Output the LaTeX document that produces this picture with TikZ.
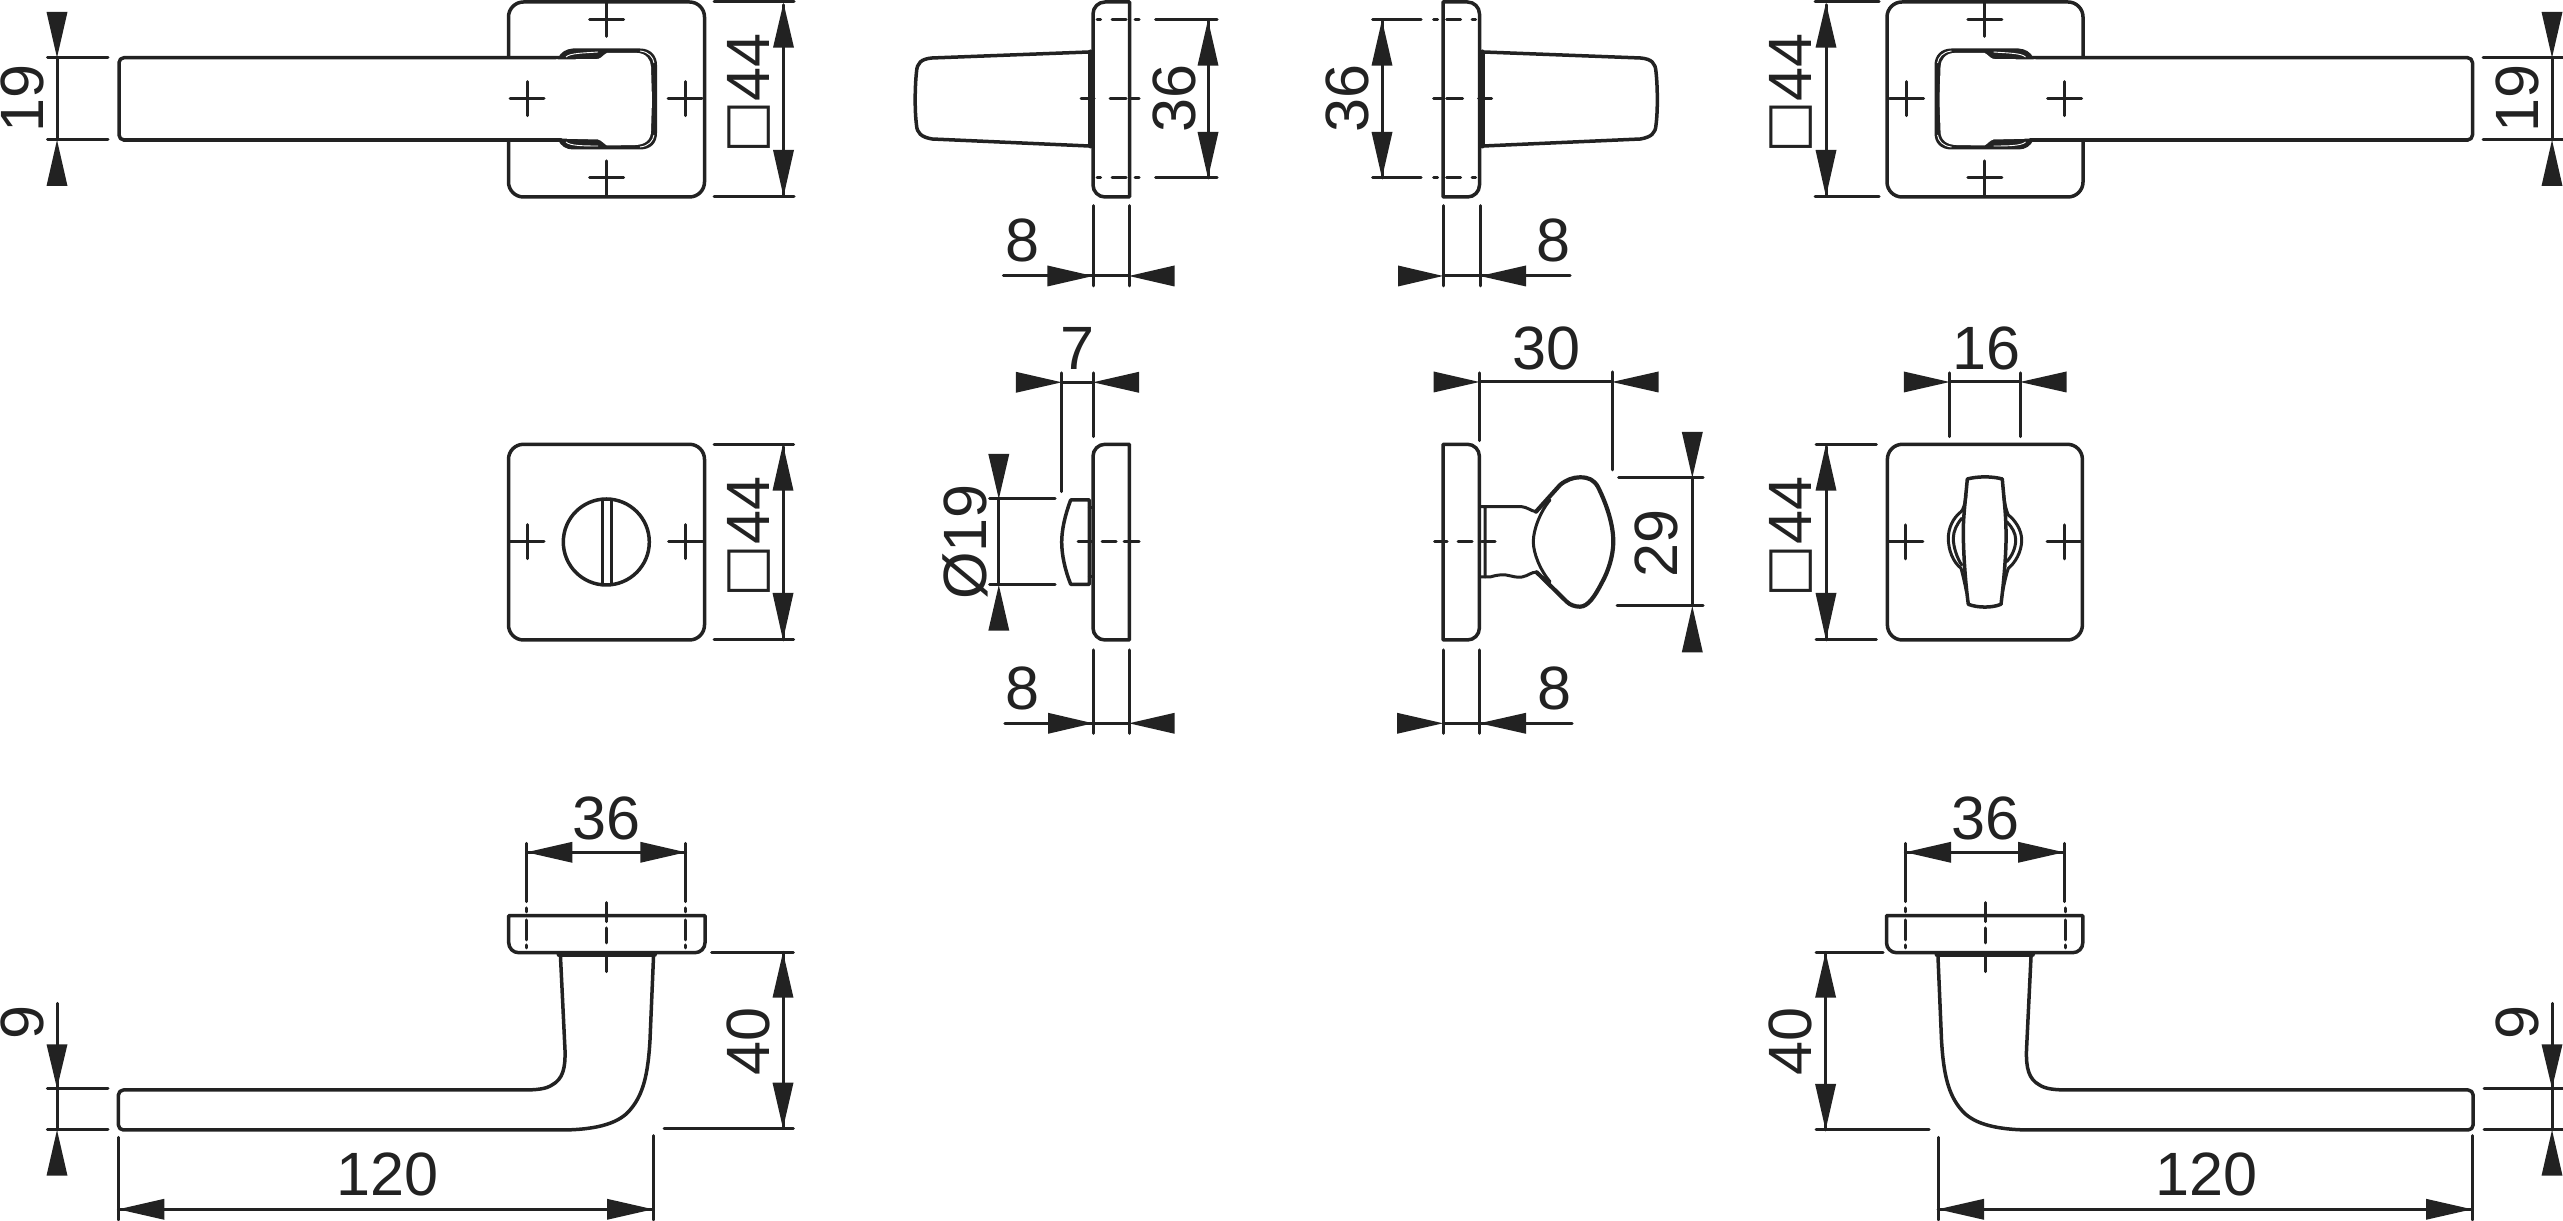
\documentclass[tikz,border=0pt]{standalone}
\usepackage{fontspec}
\setmainfont{Liberation Sans}
\newfontfamily\symfont{DejaVu Sans}
\definecolor{ink}{HTML}{222222}
\tikzset{
  x=0.1mm,y=-0.1mm,
  ln/.style={draw=ink,line width=0.35mm,line cap=round,line join=round},
  thk/.style={draw=ink,line width=0.5mm,line cap=round,line join=round},
  thn/.style={draw=ink,line width=0.3mm,line cap=round,line join=round},
  txt/.style={inner sep=0pt,outer sep=0pt,text=ink,font=\fontsize{17.4}{20}\selectfont},
}
\newcommand\ahh[3]{\fill[ink] (#1,#3) -- (#2,{#3-10.5}) -- (#2,{#3+10.5}) -- cycle;}
\newcommand\ahv[3]{\fill[ink] (#3,#1) -- ({#3-10.5},#2) -- ({#3+10.5},#2) -- cycle;}
\newcommand\lbl[5]{\node[txt,rotate=#4] (#1) at (#2,#3) {#5};}
\newcommand\crs[2]{\draw[thn] ({#1-17},#2) -- ({#1+17},#2) (#1,{#2-17}) -- (#1,{#2+17});}
\newcommand\sqb{\raisebox{1.6pt}[0pt][0pt]{\symfont\fontsize{15.8}{20}\selectfont □}}
% plate side: #1 rounded side x, #2 square side x, #3 top, #4 bottom
\newcommand\plateside[4]{\draw[ln] (#2,#3) [rounded corners=1.2mm] -- (#1,#3) -- (#1,#4) [sharp corners] -- (#2,#4) -- cycle;}
\newcommand\toprosette{%
  \draw[ln,rounded corners=1.5mm] (508.5,2) rectangle (704.5,197);
  \crs{606.7}{19.5}\crs{606.7}{178}\crs{685}{98.7}
  \draw[ln,fill=white,rounded corners=0.5mm] (561,57.7) -- (119,57.7) -- (119,140) -- (561,140);
  \fill[ink] (558,58) .. controls (561,52) and (566,49) .. (573,48.5) -- (640,48.5) .. controls (651,48.5) and (657,56) .. (657,65) -- (657,133) .. controls (657,143) and (651,149.5) .. (640,149.5) -- (573,149.5) .. controls (566,149.5) and (561,146) .. (558,140) -- cycle;
  \fill[white] (556,59.5) -- (598,59) .. controls (602,58) and (604,54) .. (607,53) -- (637,53) .. controls (646,53) and (651,60) .. (651,67) -- (652,100) -- (651,131) .. controls (651,140) and (645,144.5) .. (636,145) -- (607,145.5) .. controls (604,144) and (602,140.5) .. (598,139.5) -- (556,138.5) -- cycle;
  \draw[white,line width=0.09mm] (566,57) .. controls (570,53) and (585,53) .. (598,52);
  \draw[white,line width=0.09mm] (566,142) .. controls (570,146) and (585,146) .. (598,146);
  \draw[white,line width=0.09mm] (640,51) .. controls (649,52) and (653,57) .. (654,63);
  \draw[white,line width=0.09mm] (640,147) .. controls (649,146) and (653,141) .. (654,135);
  \draw[ln] (124,57.7) -- (561,57.7) (124,140) -- (561,140);
  \crs{527}{98.7}
}
\newcommand\sidehandle{%
  \plateside{1093}{1129.5}{2}{197}
  \draw[ln] (1089,52) -- (932,58) .. controls (921,59) and (917,63) .. (916.5,72) .. controls (915,85) and (914.5,110) .. (916.5,125) .. controls (917,133) and (921,137) .. (932,139) -- (1089,146);
  \draw[thk] (1090.5,52) -- (1090.5,146);
  \draw[thn] (1097,20) -- (1100.5,20) (1112,20) -- (1126,20) (1135,20) -- (1139,20)
             (1097,178) -- (1100.5,178) (1112,178) -- (1126,178) (1135,178) -- (1139,178)
             (1081,98.7) -- (1094,98.7) (1110,98.7) -- (1126,98.7) (1131,98.7) -- (1139,98.7);
}
\newcommand\lowhandle{%
  \draw[ln] (508.7,915.7) [rounded corners=1mm] -- (508.7,952.7) -- (705,952.7) [sharp corners] -- (705,915.7) -- cycle;
  \draw[thk] (559,954.5) -- (654.5,954.5);
  \draw[ln] (560.5,957) -- (565,1050) .. controls (565.5,1068) and (563,1079) .. (552,1085) .. controls (546,1089) and (537,1090) .. (522,1090) -- (125,1090) [rounded corners=0.5mm] -- (118.4,1090) -- (118.4,1130) [sharp corners] -- (560,1130) .. controls (600,1130) and (620,1122) .. (630,1110) .. controls (643,1095) and (648,1075) .. (650,1040) -- (653.5,957);
  \draw[thn] (606,902.7) -- (606,921.7) (606,928) -- (606,943) (606,956.7) -- (606,971.7);
  \draw[thn] (526.5,908) -- (526.5,912) (526.5,920) -- (526.5,940) (526.5,945) -- (526.5,948)
             (685.7,908) -- (685.7,912) (685.7,920) -- (685.7,940) (685.7,945) -- (685.7,948);
}
\begin{document}
\begin{tikzpicture}
\useasboundingbox (0,0) rectangle (2563,1221);
\fill[white] (0,0) rectangle (2563,1221);
% ---------- top row
\toprosette
\begin{scope}[shift={(2591.5,0)},xscale=-1]\toprosette\end{scope}
\sidehandle
\begin{scope}[shift={(2572.5,0)},xscale=-1]\sidehandle\end{scope}
% 19 left
\draw[thn] (47.5,57.7) -- (108,57.7) (47.5,140) -- (108,140) (57,57.7) -- (57,140);
\ahv{57.7}{12}{57}\ahv{140}{186}{57}
\lbl{a19}{22}{98.5}{90}{19}
% 44 top left
\draw[thn] (714,2) -- (794,2) (714,196.5) -- (794,196.5) (783.5,5) -- (783.5,196);
\ahv{3}{47.7}{783.5}\ahv{196.5}{150}{783.5}
\lbl{a44}{748.5}{93.5}{90}{\sqb 44}
% 36 / 8 side left
\draw[thn] (1155.6,20) -- (1217,20) (1155.6,178) -- (1217,178) (1208,20) -- (1208,178);
\ahv{20}{65.7}{1208}\ahv{178}{132}{1208}
\lbl{b36}{1174}{99}{90}{36}
\draw[thn] (1093,205.7) -- (1093,286) (1129,205.7) -- (1129,286) (1003.4,276) -- (1129,276);
\ahh{1093}{1047.4}{276}\ahh{1129}{1174.5}{276}
\lbl{b8}{1022}{240.5}{0}{8}
% 36 / 8 side right
\draw[thn] (1372.7,20) -- (1421,20) (1372.7,178) -- (1421,178) (1382,20) -- (1382,178);
\ahv{20}{65.7}{1382}\ahv{178}{132}{1382}
\lbl{c36}{1347}{99}{90}{36}
\draw[thn] (1443,205.7) -- (1443,286) (1480,205.7) -- (1480,286) (1443,276) -- (1570,276);
\ahh{1443}{1398}{276}\ahh{1480}{1526}{276}
\lbl{c8}{1553}{240.5}{0}{8}
% 44 top right
\draw[thn] (1815,2) -- (1879,2) (1815,196.5) -- (1879,196.5) (1826,5) -- (1826,196);
\ahv{3}{47.7}{1826}\ahv{196.5}{150}{1826}
\lbl{d44}{1790}{93.5}{90}{\sqb 44}
% 19 right
\draw[thn] (2483,57.7) -- (2563,57.7) (2483,140) -- (2563,140) (2552,57.7) -- (2552,140);
\ahv{57.7}{12}{2552}\ahv{140}{186}{2552}
\lbl{d19}{2517}{98.5}{90}{19}
% ---------- middle row: slotted rosette
\draw[ln,rounded corners=1.5mm] (508.5,444.3) rectangle (704.5,640);
\crs{527}{541.7}\crs{685.7}{541.7}
\draw[ln] (606.3,542) circle (43);
\draw[thn] (602.5,499.5) -- (602.5,584.5) (611,499.5) -- (611,584.5);
\draw[thn] (714,444.3) -- (793.6,444.3) (714,640) -- (793.6,640) (783,447) -- (783,640);
\ahv{444.3}{490.7}{783}\ahv{640}{593}{783}
\lbl{e44}{748.5}{537}{90}{\sqb 44}
% side of slotted
\plateside{1093}{1129.3}{444.3}{640}
\draw[ln] (1089.3,500) -- (1070.7,500) .. controls (1065,515) and (1061.7,530) .. (1061.7,542) .. controls (1061.7,555) and (1065,570) .. (1070.7,584.3) -- (1089.3,584.3) -- cycle;
\draw[thn] (1089.3,508) -- (1093,508) (1089.3,577) -- (1093,577);
\draw[thn] (1078,541.7) -- (1092,541.7) (1102,541.7) -- (1116,541.7) (1124,541.7) -- (1139,541.7);
% 7
\draw[thn] (1061.7,373) -- (1061.7,491.7) (1093,373) -- (1093,436.7) (1061.7,382.3) -- (1093,382.3);
\ahh{1061.7}{1015.8}{382.3}\ahh{1093}{1139}{382.3}
\lbl{f7}{1077}{348}{0}{7}
% O19
\draw[thn] (989.6,499) -- (1055,499) (989.6,585) -- (1055,585) (998.8,499) -- (998.8,585);
\ahv{499}{454}{998.8}\ahv{585}{630.7}{998.8}
\lbl{f19}{965}{542}{90}{Ø19}
% 8
\draw[thn] (1093,650) -- (1093,733.3) (1129,650) -- (1129,733.3) (1004.8,723.3) -- (1129,723.3);
\ahh{1093}{1048}{723.3}\ahh{1129}{1174.7}{723.3}
\lbl{f8}{1022}{688}{0}{8}
% side knob
\plateside{1479.4}{1443}{444.3}{640}
\draw[thn] (1434.6,541.7) -- (1447,541.7) (1458,541.7) -- (1472,541.7) (1481.7,541.7) -- (1495,541.7);
\draw[thn] (1480,506.7) -- (1521.7,506.7) .. controls (1527,507) and (1531,511) .. (1536,511.7) (1485,506.7) -- (1485,577);
\draw[thn] (1480,577) -- (1490,577) .. controls (1497,575) and (1501,574.5) .. (1506,575) .. controls (1512,576) and (1517,578) .. (1522,577) .. controls (1528,576) and (1532,571.5) .. (1536.7,572.3);
\draw[thn] (1550,500) .. controls (1540,512) and (1533.3,530) .. (1533.3,541.7) .. controls (1533.3,553) and (1540,570) .. (1550,581.7);
\draw[ln,line width=0.42mm] (1536,511.7) -- (1560,485) .. controls (1566,480) and (1573,477.3) .. (1580,477.3) .. controls (1589,477.3) and (1594,480) .. (1598,487) .. controls (1607,505) and (1613.3,525) .. (1613.3,541.7) .. controls (1613.3,556) and (1608,572) .. (1601.7,583) .. controls (1595,596) and (1588,606.7) .. (1580,606.7) .. controls (1575,606.7) and (1570,605) .. (1566.7,601.7) -- (1536.7,572.3);
% 30
\draw[thn] (1479.4,373) -- (1479.4,440.7) (1612,372) -- (1612,470) (1479.4,382) -- (1612,382);
\ahh{1479.4}{1433.6}{382}\ahh{1612}{1658.5}{382}
\lbl{g30}{1546}{348}{0}{30}
% 29
\draw[thn] (1618.7,477.7) -- (1703,477.7) (1617,606) -- (1703,606) (1692.3,477.7) -- (1692.3,606);
\ahv{477.7}{432}{1692.3}\ahv{606}{652.3}{1692.3}
\lbl{g29}{1656}{543.5}{90}{29}
% 8
\draw[thn] (1443,650) -- (1443,733.3) (1479.4,650) -- (1479.4,733.3) (1443,723.3) -- (1572,723.3);
\ahh{1443}{1397}{723.3}\ahh{1479.4}{1526}{723.3}
\lbl{g8}{1554}{688}{0}{8}
% 44
\draw[thn] (1816,444.3) -- (1876.4,444.3) (1816,640) -- (1876.4,640) (1826,447) -- (1826,640);
\ahv{444.3}{490.7}{1826}\ahv{640}{593}{1826}
\lbl{h44}{1790}{537}{90}{\sqb 44}
% thumb turn rosette
\draw[ln,rounded corners=1.5mm] (1887.4,444.3) rectangle (2082.4,640);
\crs{1905.8}{542}\crs{2064}{542}
\draw[ln] (1967.3,479) .. controls (1978,476.2) and (1992,476.2) .. (2002.3,479) .. controls (2004,500) and (2006,515) .. (2006,531.7) .. controls (2006.5,550) and (2004,580) .. (2001,604.3) .. controls (1992,608) and (1978,608) .. (1968.3,604.3) .. controls (1965,580) and (1963.3,550) .. (1963.3,531.7) .. controls (1963.3,515) and (1965.5,500) .. (1967.3,479) -- cycle;
\draw[thn] (1966,495) .. controls (1965,505) and (1963,510) .. (1961,511.7) .. controls (1953,518) and (1948.3,528) .. (1948.3,538.3) .. controls (1948.3,550) and (1953,562) .. (1961,568.3) .. controls (1963,575) and (1965,585) .. (1966.5,592);
\draw[thn] (1961.7,518.3) .. controls (1957,524) and (1953.3,531) .. (1953.3,538.3) .. controls (1953.3,547) and (1957,558) .. (1961.7,565);
\draw[thn] (2003.5,495) .. controls (2005,505) and (2006,510) .. (2008.3,515) .. controls (2015,520) and (2021.7,530) .. (2021.7,540) .. controls (2021.7,552) and (2015,563) .. (2008.3,568.3) .. controls (2006,575) and (2004,585) .. (2002.5,592);
\draw[thn] (2006.7,521.7) .. controls (2012,527) and (2015.7,533) .. (2015.7,540) .. controls (2015.7,548) and (2012,556) .. (2006.7,561.7);
% 16
\draw[thn] (1949.6,373) -- (1949.6,436.7) (2020,373) -- (2020,436.7) (1949.6,382) -- (2020,382);
\ahh{1949.6}{1903.8}{382}\ahh{2020}{2066.5}{382}
\lbl{h16}{1986}{348}{0}{16}
% ---------- bottom row
\lowhandle
\begin{scope}[shift={(2591.5,0)},xscale=-1]\lowhandle\end{scope}
% left dims
\draw[thn] (526.5,843.3) -- (526.5,901.7) (685.7,843.3) -- (685.7,901.7) (526.5,852.3) -- (685.7,852.3);
\ahh{526.5}{572.4}{852.3}\ahh{685.7}{640.3}{852.3}
\lbl{i36}{606.6}{818}{0}{36}
\draw[thn] (711.7,952.3) -- (793.4,952.3) (664,1128.3) -- (793.4,1128.3) (783,952.3) -- (783,1128.3);
\ahv{952.3}{997.7}{783}\ahv{1128.3}{1082.7}{783}
\lbl{i40}{748}{1041}{90}{40}
\draw[thn] (47.4,1089) -- (108,1089) (47.4,1130) -- (108,1130) (57,1003.3) -- (57,1130);
\ahv{1088.3}{1044.3}{57}\ahv{1130}{1175.7}{57}
\lbl{i9}{22}{1022}{90}{9}
\draw[thn] (118.4,1137.3) -- (118.4,1220) (653,1135.7) -- (653,1220) (118.4,1209.3) -- (653,1209.3);
\ahh{118.4}{164.3}{1209.3}\ahh{653}{607}{1209.3}
\lbl{i120}{387.5}{1174}{0}{120}
% right dims
\draw[thn] (1905.4,843.3) -- (1905.4,901.7) (2064,843.3) -- (2064,901.7) (1905.4,852.3) -- (2064,852.3);
\ahh{1905.4}{1951}{852.3}\ahh{2064}{2018}{852.3}
\lbl{j36}{1985}{818}{0}{36}
\draw[thn] (1816,952.3) -- (1883,952.3) (1816,1130) -- (1929,1130) (1825.6,952.3) -- (1825.6,1130);
\ahv{952.3}{997.7}{1825.6}\ahv{1130}{1084}{1825.6}
\lbl{j40}{1790}{1041}{90}{40}
\draw[thn] (2484,1089) -- (2563,1089) (2484,1130) -- (2563,1130) (2552,1003.3) -- (2552,1130);
\ahv{1088.3}{1044.3}{2552}\ahv{1130}{1175.7}{2552}
\lbl{j9}{2517}{1022}{90}{9}
\draw[thn] (1938,1137.3) -- (1938,1220) (2472,1135.7) -- (2472,1220) (1938,1209.3) -- (2472,1209.3);
\ahh{1938}{1984}{1209.3}\ahh{2472}{2426}{1209.3}
\lbl{j120}{2206}{1174}{0}{120}
\end{tikzpicture}
\end{document}
